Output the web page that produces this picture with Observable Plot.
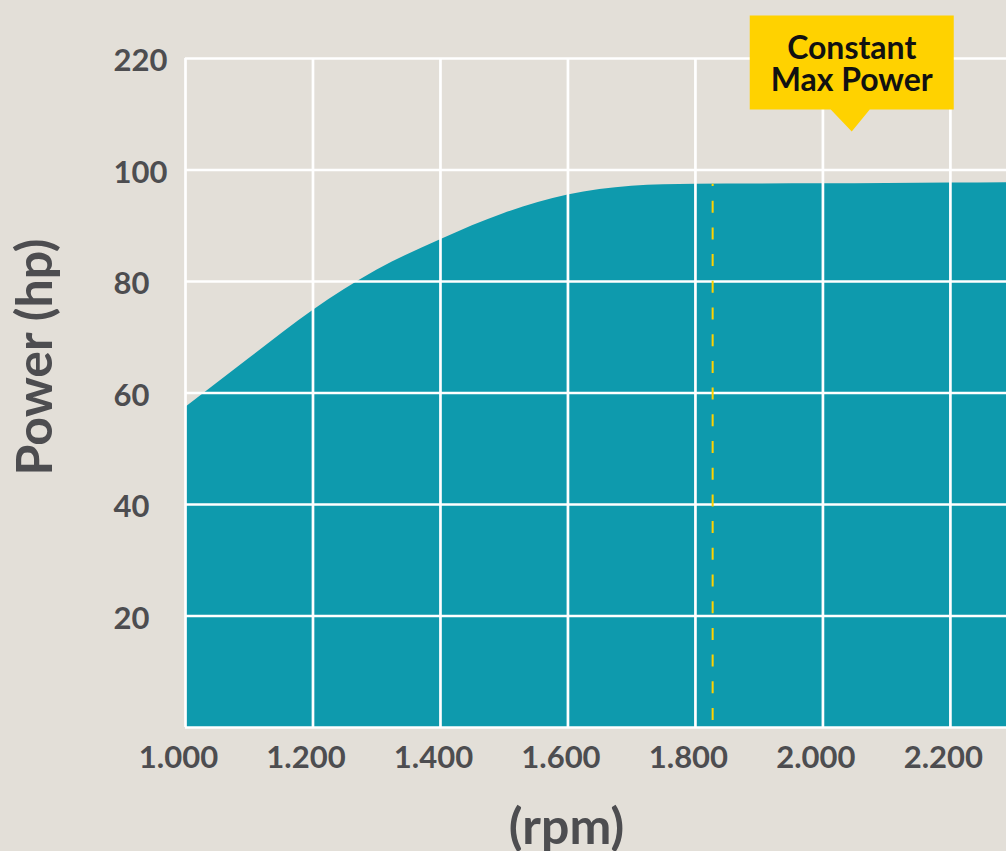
<!DOCTYPE html>
<html>
<head>
<meta charset="utf-8">
<script src="https://cdn.jsdelivr.net/npm/d3@7"></script>
<script src="https://cdn.jsdelivr.net/npm/@observablehq/plot@0.6"></script>
<style>
  html, body { margin: 0; padding: 0; background: #e3dfd8; overflow: hidden; }
</style>
</head>
<body>
<div id="chart"></div>
<script>
// ---- data ----
const rpm   = [1000, 1100, 1200, 1300, 1400, 1500, 1600, 1650, 1700, 1750, 1800, 1900, 2000, 2100, 2200, 2288];
const power = [57.4, 66.2, 74.8, 82.0, 87.5, 92.2, 95.5, 96.5, 97.1, 97.35, 97.45, 97.5, 97.52, 97.58, 97.65, 97.7];
const xTicks = [1000, 1200, 1400, 1600, 1800, 2000, 2200];
const xTickLabels = ["1.000", "1.200", "1.400", "1.600", "1.800", "2.000", "2.200"];
const yTicks = [20, 40, 60, 80, 100, 120];
const yTickLabels = ["20", "40", "60", "80", "100", "220"];
const gridYValues = [0, 20, 40, 60, 80, 100, 120];
const maxPowerRpm = 1827;
const maxPowerValue = 97.45;
const annotation = {x: 2046, y: 106.8, lines: ["Constant", "Max Power"]};
const xTitle = "(rpm)";
const yTitle = "Power (hp)";

const data = rpm.map((r, i) => ({rpm: r, power: power[i]}));

const teal = "#0e9aad";
const yellow = "#ffd200";
const gray = "#4d4d50";

function svgEl(tag, attrs) {
  const el = document.createElementNS("http://www.w3.org/2000/svg", tag);
  for (const k in attrs) el.setAttribute(k, attrs[k]);
  return el;
}

const calloutMark = (index, scales) => {
  const cx = scales.x(annotation.x);
  const ty = scales.y(annotation.y);
  const g = svgEl("g", {});
  const d = `M${cx - 102},${ty - 116}H${cx + 102}V${ty - 22}H${cx + 18}L${cx},${ty}L${cx - 21},${ty - 22}H${cx - 102}Z`;
  g.appendChild(svgEl("path", {d, fill: yellow}));
  annotation.lines.forEach((line, i) => {
    const t = svgEl("text", {
      x: cx, y: ty - 72.5 + i * 31.5,
      "text-anchor": "middle",
      "font-family": "Lato, sans-serif",
      "font-weight": 700,
      "font-size": 32,
      fill: "#111"
    });
    t.textContent = line;
    g.appendChild(t);
  });
  return g;
};

const chart = Plot.plot({
  width: 1006,
  height: 851,
  marginLeft: 185,
  marginRight: 0,
  marginTop: 58,
  marginBottom: 124,
  style: {
    background: "#e3dfd8",
    fontFamily: "Lato, sans-serif",
    fontWeight: 700,
    fontSize: "31px",
    color: gray,
    overflow: "visible"
  },
  x: {domain: [1000, 2288]},
  y: {domain: [0, 120]},
  marks: [
    Plot.areaY(data, {x: "rpm", y: "power", fill: teal, curve: "monotone-x"}),
    Plot.gridX(xTicks, {stroke: "white", strokeOpacity: 1, strokeWidth: 2.7}),
    Plot.gridY(gridYValues, {stroke: "white", strokeOpacity: 1, strokeWidth: 2.7}),
    Plot.ruleX([maxPowerRpm], {y1: 0, y2: maxPowerValue, stroke: yellow, strokeWidth: 2, strokeDasharray: "12,14.7", strokeDashoffset: -7}),
    Plot.axisX({ticks: xTicks, tickFormat: d => xTickLabels[xTicks.indexOf(d)], tickSize: 0, tickPadding: 18, dx: -7, fill: gray, fontSize: 31, fontWeight: 700, label: null}),
    Plot.axisY({ticks: yTicks, tickFormat: d => yTickLabels[yTicks.indexOf(d)], tickSize: 0, tickPadding: 72, textAnchor: "start", dy: 3, fill: gray, fontSize: 31, fontWeight: 700, label: null}),
    Plot.text([xTitle], {frameAnchor: "bottom", textAnchor: "middle", lineAnchor: "middle", dx: -29.5, dy: 100, fill: gray, fontSize: 50, fontWeight: 700}),
    Plot.text([yTitle], {frameAnchor: "left", textAnchor: "middle", lineAnchor: "middle", rotate: -90, dx: -150, dy: -36, fill: gray, fontSize: 50, fontWeight: 700}),
    calloutMark
  ]
});

document.getElementById("chart").appendChild(chart);
</script>
</body>
</html>
